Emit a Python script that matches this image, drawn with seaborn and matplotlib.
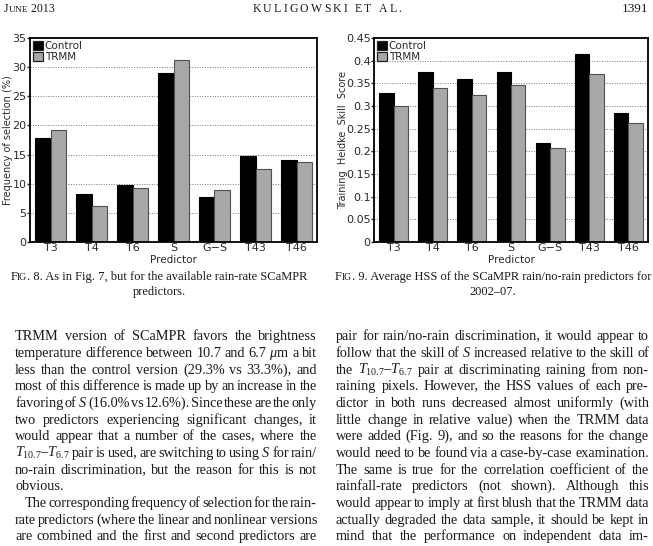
import math
import numpy as np
import pandas as pd
import matplotlib
matplotlib.use('Agg')
import matplotlib.pyplot as plt
import seaborn as sns
from matplotlib.patches import Patch
from matplotlib.transforms import IdentityTransform
from matplotlib.ticker import MultipleLocator, FuncFormatter

# --- datos ---
predictors = ['T3', 'T4', 'T6', 'S', 'G−S', 'T43', 'T46']
runs = ['Control', 'TRMM']
freq_control = [17.8, 8.3, 9.75, 29.0, 7.8, 14.7, 14.0]
freq_trmm = [19.2, 6.1, 9.2, 31.3, 8.9, 12.45, 13.65]
hss_control = [0.328, 0.376, 0.359, 0.375, 0.218, 0.415, 0.284]
hss_trmm = [0.300, 0.339, 0.325, 0.346, 0.208, 0.371, 0.263]

header_mid = 'KULIGOWSKI ET AL.'
header_right = '1391'
caption8 = ['. 8. As in Fig. 7, but for the available rain-rate SCaMPR', 'predictors.']
caption9 = ['. 9. Average HSS of the SCaMPR rain/no-rain predictors for', '2002–07.']

left_lines = [
    'TRMM version of SCaMPR favors the brightness',
    r'temperature difference between 10.7 and 6.7 $\mu$m a bit',
    'less than the control version (29.3% vs 33.3%), and',
    'most of this difference is made up by an increase in the',
    'favoring of $S$ (16.0% vs 12.6%). Since these are the only',
    'two predictors experiencing significant changes, it',
    'would appear that a number of the cases, where the',
    '$T_{10.7}$–$T_{6.7}$ pair is used, are switching to using $S$ for rain/',
    'no-rain discrimination, but the reason for this is not',
    'obvious.',
    'The corresponding frequency of selection for the rain-',
    'rate predictors (where the linear and nonlinear versions',
    'are combined and the first and second predictors are',
]
right_lines = [
    'pair for rain/no-rain discrimination, it would appear to',
    'follow that the skill of $S$ increased relative to the skill of',
    'the $T_{10.7}$–$T_{6.7}$ pair at discriminating raining from non-',
    'raining pixels. However, the HSS values of each pre-',
    'dictor in both runs decreased almost uniformly (with',
    'little change in relative value) when the TRMM data',
    'were added (Fig. 9), and so the reasons for the change',
    'would need to be found via a case-by-case examination.',
    'The same is true for the correlation coefficient of the',
    'rainfall-rate predictors (not shown). Although this',
    'would appear to imply at first blush that the TRMM data',
    'actually degraded the data sample, it should be kept in',
    'mind that the performance on independent data im-',
]

sns.set_style('white')
plt.rcParams['font.family'] = ['DejaVu Sans']
plt.rcParams['mathtext.fontset'] = 'custom'
plt.rcParams['mathtext.rm'] = 'Liberation Serif'
plt.rcParams['mathtext.it'] = 'Liberation Serif:italic'

W, H = 653, 546
fig = plt.figure(figsize=(W / 100, H / 100), dpi=100)
fig.patch.set_facecolor('white')

colores = {'Control': 'black', 'TRMM': '#a8a8a8'}
bordes = {'Control': 'black', 'TRMM': '#505050'}
tc = '#2a2a2a'


def long_df(ctrl, trmm):
    return pd.DataFrame({'Predictor': predictors * 2,
                         'Run': ['Control'] * len(ctrl) + ['TRMM'] * len(trmm),
                         'Value': ctrl + trmm})


def panel(rect, df, ymax, step, ylabel, fmt, lpad):
    ax = fig.add_axes(rect)
    sns.barplot(data=df, x='Predictor', y='Value', hue='Run', palette=colores,
                hue_order=runs, width=0.74, saturation=1, ax=ax, zorder=2)
    for cont, run in zip(ax.containers, runs):
        for p in cont:
            p.set_edgecolor(bordes[run])
            p.set_linewidth(0.8)
    ax.set_xlim(-0.5, len(predictors) - 0.5)
    ax.set_ylim(0, ymax)
    ax.yaxis.set_major_locator(MultipleLocator(step))
    ax.yaxis.set_major_formatter(FuncFormatter(fmt))
    ax.yaxis.grid(True, linestyle=(0, (1, 1.6)), color='#777777', linewidth=0.7)
    ax.set_axisbelow(True)
    for s in ax.spines.values():
        s.set_linewidth(1.3)
        s.set_color('black')
    ax.tick_params(axis='y', direction='out', length=2, width=1, pad=0.5,
                   labelsize=8, labelcolor=tc, left=True)
    ax.tick_params(axis='x', length=0, pad=1, labelsize=8, labelcolor=tc)
    ax.set_xlabel('Predictor', fontsize=7.5, color=tc, labelpad=1)
    ax.set_ylabel(ylabel, fontsize=7, color=tc, labelpad=lpad)
    handles = [Patch(facecolor=colores[r], edgecolor='#222222', linewidth=0.9) for r in runs]
    ax.legend(handles, runs, loc='upper left', frameon=False, fontsize=7.5,
              handlelength=1.0, handleheight=1.0, handletextpad=0.15,
              labelspacing=0.1, borderaxespad=0.15, borderpad=0.1,
              labelcolor=tc)
    return ax


ax1 = panel([30 / W, 1 - 242 / H, 287 / W, 204 / H], long_df(freq_control, freq_trmm),
            35, 5, 'Frequency of selection (%)', lambda v, p: f'{v:g}', -0.5)
ax2 = panel([374 / W, 1 - 242 / H, 274 / W, 204 / H], long_df(hss_control, hss_trmm),
            0.45, 0.05, 'Training  Heidke  Skill  Score',
            lambda v, p: f'{v:.2f}'.rstrip('0').rstrip('.') if v else '0', -1.5)

# --- texto de la pagina (coordenadas en pixeles desde arriba) ---
r = fig.canvas.get_renderer()
serif = 'Liberation Serif'


def put(x, y, s, size, **kw):
    t = fig.text(x, 0, s, transform=IdentityTransform(), fontsize=size,
                 family=serif, va='baseline', color='#1a1a1a', **kw)
    # Agg redondea (base + descent): quitar la parte fraccionaria del descent
    base = round(y)
    if '$' not in s:
        d = r.get_text_width_height_descent(s, t.get_fontproperties(), ismath=False)[2]
        base = base - (d - math.floor(d))
    t.set_y(H - base)
    return t


def runs_text(x, y, parts, ha='left', track=0):
    objs = [put(0, y, s, sz) for s, sz in parts]
    ws = [o.get_window_extent(r).width for o in objs]
    total = sum(ws) + track * (len(ws) - 1)
    x0 = x - total / 2 if ha == 'center' else (x - total if ha == 'right' else x)
    for o, w in zip(objs, ws):
        o.set_x(x0)
        x0 += w + track


def body_line(x0, x1, y, line, size, justify=True, indent=0):
    words = line.split(' ')
    objs = [put(0, y, w, size) for w in words]
    ws = [o.get_window_extent(r).width for o in objs]
    if justify and len(words) > 1:
        gap = (x1 - x0 - indent - sum(ws)) / (len(words) - 1)
    else:
        gap = size * 100 / 72 * 0.25
    x = x0 + indent
    for o, w in zip(objs, ws):
        o.set_x(x)
        x += w + gap


# cabecera
runs_text(4, 12.5, [('J', 8.6), ('UNE', 6.8), (' 2013', 8.6)])
runs_text(327, 12.5, [(c, 8.5) for c in header_mid], ha='center', track=2.2)
runs_text(648, 12.5, [(header_right, 9.5)], ha='right')

# leyendas de figura
cap_size = 9
runs_text(159, 280, [('F', cap_size), ('IG', cap_size * 0.78), (caption8[0], cap_size)], ha='center')
runs_text(159, 295, [(caption8[1], cap_size)], ha='center')
runs_text(493, 280, [('F', 8.88), ('IG', 8.88 * 0.78), (caption9[0], 8.88)], ha='center')
runs_text(493, 295, [(caption9[1], 8.88)], ha='center')

# texto del cuerpo
body_size = 10.3
y0, dy = 340.5, 16.65
for i, line in enumerate(left_lines):
    body_line(15, 317, y0 + i * dy, line, body_size,
              justify=(line != 'obvious.'), indent=(10 if i == 10 else 0))
for i, line in enumerate(right_lines):
    body_line(336, 649, y0 + i * dy, line, body_size)

fig.savefig('out.png', dpi=100, facecolor='white')
